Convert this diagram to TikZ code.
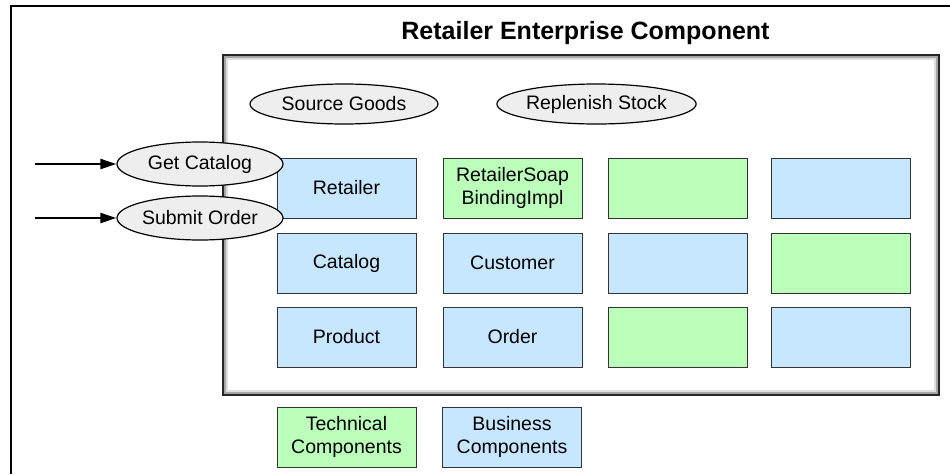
\documentclass[tikz,border=0pt]{standalone}
\usepackage{fontspec}
\setmainfont{Liberation Sans}
\usetikzlibrary{shapes.geometric,arrows.meta}
\definecolor{bizblue}{RGB}{198,231,255}
\definecolor{techgreen}{RGB}{187,255,187}
\definecolor{opgray}{RGB}{238,238,238}
\tikzset{
  comp/.style={draw=black!80, line width=1pt, minimum width=139pt, minimum height=60pt,
    inner sep=0pt, align=center, font=\fontsize{19.5}{22.5}\selectfont},
  biz/.style={comp, fill=bizblue},
  tech/.style={comp, fill=techgreen},
  op/.style={ellipse, draw=black, fill=opgray, line width=1.2pt, inner sep=0pt,
    font=\fontsize{19.5}{22.5}\selectfont},
  callarrow/.style={line width=2pt, -{Triangle[length=16pt,width=10pt]}}
}
\begin{document}
\begin{tikzpicture}[x=1pt,y=-1pt]
\useasboundingbox (0,0) rectangle (950,474);
\fill[white] (0,0) rectangle (950,474);
% outer frame
\draw[line width=2pt] (11,474) -- (11,6) -- (950,6);
% title
\node[font=\fontsize{25}{28}\bfseries\selectfont] (title) at (585.5,33) {Retailer Enterprise Component};
% inner frame
\coordinate (fa) at (223,55);
\coordinate (fb) at (939,395);
\draw[line width=2pt, black!13] ([shift={(4,4)}]fa) rectangle ([shift={(-4,-4)}]fb);
\draw[line width=2.2pt, black!35] ([shift={(2,2)}]fa) rectangle ([shift={(-2,-2)}]fb);
\draw[line width=2pt, black!85] (fa) rectangle (fb);
% components
\node[biz]  (retailer) at (346.5,188) {Retailer};
\node[tech] (soap)     at (512.5,188) {RetailerSoap\\BindingImpl};
\node[tech] (c13)      at (678,188) {};
\node[biz]  (c14)      at (840.5,188) {};
\node[biz]  (catalog)  at (346.5,263) {Catalog};
\node[biz]  (customer) at (512.5,263) {Customer};
\node[biz]  (c23)      at (678,263) {};
\node[tech] (c24)      at (840.5,263) {};
\node[biz]  (product)  at (346.5,337) {Product};
\node[biz]  (order)    at (512.5,337) {Order};
\node[tech] (c33)      at (678,337) {};
\node[biz]  (c34)      at (840.5,337) {};
% legend
\node[tech] (legtech) at (346.5,437) {Technical\\Components};
\node[biz]  (legbiz)  at (512,437) {Business\\Components};
% operations
\node[op, minimum width=188pt, minimum height=40pt] (source) at (344,104) {Source Goods};
\node[op, minimum width=197pt, minimum height=40pt] (replenish) at (596.5,104) {Replenish Stock};
\node[op, minimum width=166pt, minimum height=44pt] (getcat) at (200,164) {Get Catalog};
\node[op, minimum width=166pt, minimum height=44pt] (submit) at (200,218) {Submit Order};
% arrows
\coordinate (a1) at (35,164);
\coordinate (a2) at (35,218);
\draw[callarrow] (a1) -- (getcat.west);
\draw[callarrow] (a2) -- (submit.west);
\end{tikzpicture}
\end{document}
